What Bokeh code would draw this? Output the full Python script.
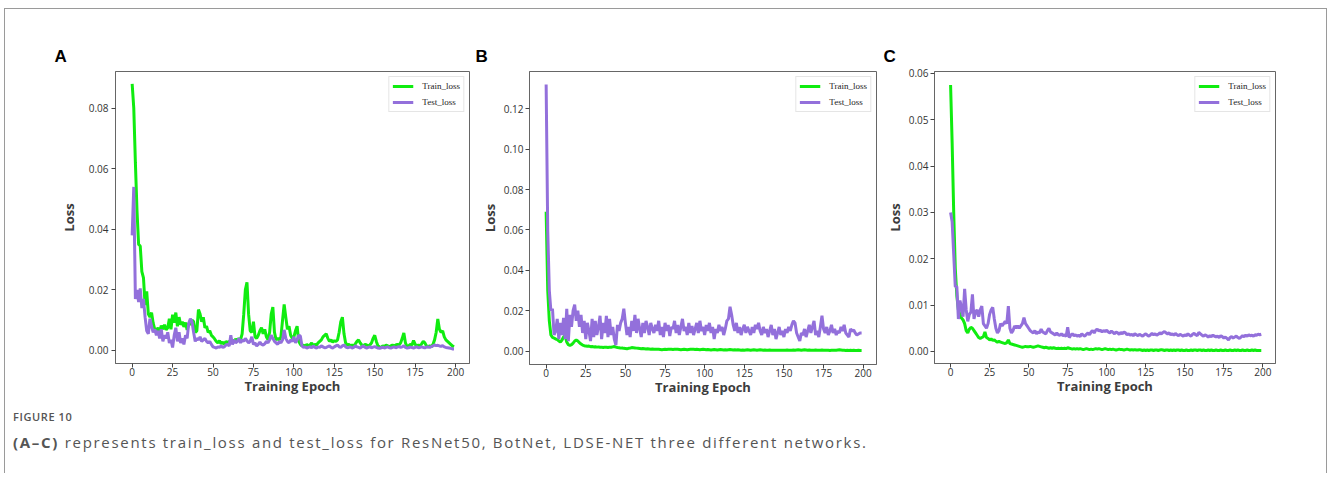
from bokeh.plotting import figure
from bokeh.layouts import row, column
from bokeh.models import (Range1d, FixedTicker, NumeralTickFormatter, Legend, LegendItem,
                          Title, Div)
from bokeh.embed import file_html
from bokeh.resources import INLINE

# ---------------- data ----------------
PANELS = ["A", "B", "C"]
X_TICKS = [0, 25, 50, 75, 100, 125, 150, 175, 200]
Y_TICKS_A = [0.0, 0.02, 0.04, 0.06, 0.08]
Y_TICKS_B = [0.0, 0.02, 0.04, 0.06, 0.08, 0.10, 0.12]
Y_TICKS_C = [0.0, 0.01, 0.02, 0.03, 0.04, 0.05, 0.06]
SERIES_NAMES = ["Train_loss", "Test_loss"]

train_A = [
    0.0880, 0.0800, 0.0620, 0.0460, 0.0350, 0.0345, 0.0260, 0.0240, 0.0150, 0.0195,
    0.0120, 0.0110, 0.0125, 0.0090, 0.0070, 0.0065, 0.0075, 0.0060, 0.0082, 0.0070,
    0.0085, 0.0068, 0.0075, 0.0105, 0.0070, 0.0118, 0.0092, 0.0125, 0.0080, 0.0110,
    0.0085, 0.0095, 0.0078, 0.0092, 0.0068, 0.0090, 0.0085, 0.0100, 0.0095, 0.0060,
    0.0065, 0.0135, 0.0120, 0.0095, 0.0110, 0.0075, 0.0080, 0.0060, 0.0065, 0.0050,
    0.0045, 0.0038, 0.0030, 0.0025, 0.0032, 0.0022, 0.0028, 0.0020, 0.0030, 0.0025,
    0.0030, 0.0025, 0.0035, 0.0028, 0.0038, 0.0032, 0.0040, 0.0035, 0.0055, 0.0120,
    0.0200, 0.0225, 0.0120, 0.0065, 0.0060, 0.0095, 0.0045, 0.0040, 0.0050, 0.0065,
    0.0075, 0.0055, 0.0070, 0.0045, 0.0035, 0.0060, 0.0120, 0.0143, 0.0060, 0.0035,
    0.0040, 0.0035, 0.0045, 0.0100, 0.0152, 0.0110, 0.0070, 0.0080, 0.0050, 0.0040,
    0.0045, 0.0065, 0.0080, 0.0030, 0.0020, 0.0015, 0.0018, 0.0012, 0.0020, 0.0015,
    0.0018, 0.0025, 0.0015, 0.0020, 0.0018, 0.0025, 0.0030, 0.0035, 0.0045, 0.0050,
    0.0055, 0.0040, 0.0030, 0.0035, 0.0028, 0.0032, 0.0030, 0.0035, 0.0060, 0.0095,
    0.0110, 0.0055, 0.0025, 0.0018, 0.0020, 0.0015, 0.0018, 0.0015, 0.0022, 0.0030,
    0.0035, 0.0025, 0.0018, 0.0015, 0.0020, 0.0018, 0.0015, 0.0018, 0.0025, 0.0040,
    0.0050, 0.0030, 0.0015, 0.0012, 0.0010, 0.0015, 0.0012, 0.0018, 0.0015, 0.0012,
    0.0015, 0.0018, 0.0015, 0.0018, 0.0020, 0.0018, 0.0025, 0.0040, 0.0058, 0.0025,
    0.0012, 0.0015, 0.0020, 0.0018, 0.0033, 0.0020, 0.0015, 0.0018, 0.0015, 0.0022,
    0.0030, 0.0025, 0.0015, 0.0012, 0.0015, 0.0012, 0.0020, 0.0035, 0.0060, 0.0104,
    0.0070, 0.0060, 0.0065, 0.0045, 0.0035, 0.0030, 0.0025, 0.0020, 0.0015, 0.0012,
]
test_A = [
    0.0380, 0.0540, 0.0170, 0.0200, 0.0160, 0.0205, 0.0140, 0.0170, 0.0110, 0.0065,
    0.0055, 0.0105, 0.0080, 0.0060, 0.0070, 0.0050, 0.0065, 0.0040, 0.0070, 0.0030,
    0.0050, 0.0040, 0.0060, 0.0025, 0.0035, 0.0010, 0.0050, 0.0075, 0.0030, 0.0060,
    0.0025, 0.0040, 0.0020, 0.0050, 0.0040, 0.0090, 0.0105, 0.0095, 0.0060, 0.0030,
    0.0040, 0.0035, 0.0045, 0.0030, 0.0035, 0.0040, 0.0030, 0.0025, 0.0030, 0.0020,
    0.0012, 0.0010, 0.0008, 0.0012, 0.0010, 0.0015, 0.0010, 0.0012, 0.0018, 0.0020,
    0.0015, 0.0050, 0.0020, 0.0035, 0.0025, 0.0030, 0.0040, 0.0025, 0.0035, 0.0030,
    0.0040, 0.0032, 0.0025, 0.0030, 0.0045, 0.0020, 0.0025, 0.0015, 0.0020, 0.0028,
    0.0020, 0.0018, 0.0022, 0.0030, 0.0025, 0.0035, 0.0050, 0.0040, 0.0030, 0.0025,
    0.0020, 0.0030, 0.0025, 0.0035, 0.0068, 0.0040, 0.0030, 0.0025, 0.0035, 0.0030,
    0.0045, 0.0025, 0.0035, 0.0050, 0.0048, 0.0015, 0.0010, 0.0012, 0.0008, 0.0010,
    0.0012, 0.0009, 0.0015, 0.0010, 0.0008, 0.0012, 0.0010, 0.0015, 0.0012, 0.0009,
    0.0010, 0.0013, 0.0015, 0.0010, 0.0008, 0.0012, 0.0015, 0.0018, 0.0012, 0.0010,
    0.0015, 0.0018, 0.0012, 0.0009, 0.0010, 0.0012, 0.0008, 0.0010, 0.0015, 0.0012,
    0.0010, 0.0008, 0.0012, 0.0015, 0.0010, 0.0008, 0.0010, 0.0012, 0.0009, 0.0011,
    0.0013, 0.0010, 0.0008, 0.0007, 0.0009, 0.0011, 0.0008, 0.0010, 0.0012, 0.0009,
    0.0008, 0.0010, 0.0012, 0.0009, 0.0011, 0.0013, 0.0010, 0.0012, 0.0016, 0.0010,
    0.0008, 0.0009, 0.0011, 0.0010, 0.0008, 0.0010, 0.0012, 0.0009, 0.0010, 0.0012,
    0.0010, 0.0009, 0.0011, 0.0012, 0.0010, 0.0013, 0.0015, 0.0018, 0.0016, 0.0017,
    0.0015, 0.0014, 0.0016, 0.0012, 0.0010, 0.0009, 0.0008, 0.0007, 0.0005, 0.0005,
]
train_B = [
    0.0690, 0.0300, 0.0150, 0.0080, 0.0068, 0.0065, 0.0060, 0.0058, 0.0050, 0.0045,
    0.0055, 0.0070, 0.0078, 0.0045, 0.0032, 0.0028, 0.0032, 0.0040, 0.0050, 0.0055,
    0.0050, 0.0042, 0.0035, 0.0030, 0.0027, 0.0025, 0.0024, 0.0025, 0.0022, 0.0023,
    0.0021, 0.0022, 0.0020, 0.0021, 0.0019, 0.0020, 0.0018, 0.0020, 0.0019, 0.0018,
    0.0020, 0.0019, 0.0021, 0.0023, 0.0020, 0.0018, 0.0017, 0.0015, 0.0016, 0.0014,
    0.0013, 0.0012, 0.0014, 0.0015, 0.0018, 0.0017, 0.0016, 0.0015, 0.0014, 0.0013,
    0.0012, 0.0013, 0.0012, 0.0011, 0.0012, 0.0011, 0.0010, 0.0011, 0.0010, 0.0009,
    0.0010, 0.0009, 0.0008, 0.0007, 0.0008, 0.0009, 0.0008, 0.0009, 0.0010, 0.0009,
    0.0008, 0.0009, 0.0010, 0.0009, 0.0008, 0.0007, 0.0008, 0.0009, 0.0008, 0.0007,
    0.0008, 0.0009, 0.0010, 0.0009, 0.0008, 0.0009, 0.0008, 0.0007, 0.0008, 0.0009,
    0.0008, 0.0007, 0.0008, 0.0007, 0.0006, 0.0007, 0.0008, 0.0007, 0.0006, 0.0007,
    0.0008, 0.0007, 0.0006, 0.0007, 0.0006, 0.0007, 0.0008, 0.0007, 0.0006, 0.0007,
    0.0006, 0.0007, 0.0006, 0.0005, 0.0006, 0.0005, 0.0006, 0.0007, 0.0006, 0.0005,
    0.0006, 0.0007, 0.0006, 0.0005, 0.0006, 0.0007, 0.0006, 0.0005, 0.0006, 0.0005,
    0.0005, 0.0006, 0.0005, 0.0004, 0.0005, 0.0004, 0.0005, 0.0004, 0.0005, 0.0004,
    0.0004, 0.0005, 0.0006, 0.0005, 0.0004, 0.0005, 0.0006, 0.0005, 0.0006, 0.0007,
    0.0006, 0.0005, 0.0006, 0.0007, 0.0006, 0.0005, 0.0006, 0.0005, 0.0004, 0.0005,
    0.0006, 0.0005, 0.0004, 0.0005, 0.0006, 0.0005, 0.0004, 0.0005, 0.0004, 0.0003,
    0.0004, 0.0005, 0.0004, 0.0005, 0.0006, 0.0007, 0.0006, 0.0005, 0.0004, 0.0003,
    0.0004, 0.0003, 0.0004, 0.0003, 0.0004, 0.0003, 0.0003, 0.0004, 0.0003, 0.0003,
]
test_B = [
    0.1320, 0.0600, 0.0300, 0.0200, 0.0210, 0.0080, 0.0100, 0.0160, 0.0060, 0.0140,
    0.0080, 0.0165, 0.0060, 0.0210, 0.0050, 0.0180, 0.0120, 0.0200, 0.0230, 0.0150,
    0.0200, 0.0120, 0.0180, 0.0090, 0.0150, 0.0060, 0.0140, 0.0100, 0.0050, 0.0160,
    0.0070, 0.0150, 0.0080, 0.0120, 0.0175, 0.0060, 0.0140, 0.0090, 0.0175, 0.0070,
    0.0160, 0.0080, 0.0120, 0.0060, 0.0030, 0.0130, 0.0100, 0.0140, 0.0160, 0.0210,
    0.0140, 0.0080, 0.0120, 0.0070, 0.0150, 0.0100, 0.0180, 0.0090, 0.0160, 0.0110,
    0.0070, 0.0140, 0.0090, 0.0150, 0.0120, 0.0080, 0.0140, 0.0110, 0.0090, 0.0130,
    0.0100, 0.0150, 0.0080, 0.0120, 0.0070, 0.0140, 0.0100, 0.0130, 0.0075, 0.0120,
    0.0110, 0.0150, 0.0090, 0.0130, 0.0080, 0.0120, 0.0160, 0.0100, 0.0120, 0.0080,
    0.0140, 0.0090, 0.0125, 0.0080, 0.0110, 0.0140, 0.0090, 0.0150, 0.0100, 0.0120,
    0.0080, 0.0130, 0.0100, 0.0140, 0.0090, 0.0120, 0.0060, 0.0110, 0.0090, 0.0130,
    0.0100, 0.0120, 0.0080, 0.0110, 0.0150, 0.0160, 0.0220, 0.0180, 0.0130, 0.0100,
    0.0140, 0.0090, 0.0120, 0.0080, 0.0110, 0.0130, 0.0090, 0.0120, 0.0100, 0.0080,
    0.0120, 0.0090, 0.0130, 0.0110, 0.0140, 0.0100, 0.0080, 0.0120, 0.0090, 0.0110,
    0.0070, 0.0100, 0.0130, 0.0080, 0.0110, 0.0060, 0.0090, 0.0120, 0.0080, 0.0100,
    0.0070, 0.0110, 0.0090, 0.0120, 0.0100, 0.0130, 0.0150, 0.0140, 0.0090, 0.0070,
    0.0050, 0.0090, 0.0080, 0.0110, 0.0070, 0.0100, 0.0130, 0.0090, 0.0120, 0.0150,
    0.0080, 0.0100, 0.0070, 0.0120, 0.0175, 0.0110, 0.0090, 0.0120, 0.0080, 0.0100,
    0.0130, 0.0090, 0.0110, 0.0080, 0.0100, 0.0090, 0.0120, 0.0100, 0.0130, 0.0090,
    0.0080, 0.0070, 0.0110, 0.0100, 0.0105, 0.0090, 0.0080, 0.0085, 0.0090, 0.0090,
]
train_C = [
    0.0575, 0.0450, 0.0300, 0.0180, 0.0120, 0.0090, 0.0080, 0.0072, 0.0068, 0.0060,
    0.0045, 0.0040, 0.0048, 0.0052, 0.0050, 0.0045, 0.0040, 0.0035, 0.0030, 0.0028,
    0.0030, 0.0032, 0.0042, 0.0030, 0.0028, 0.0025, 0.0027, 0.0024, 0.0025, 0.0022,
    0.0020, 0.0022, 0.0020, 0.0019, 0.0018, 0.0017, 0.0019, 0.0025, 0.0017, 0.0016,
    0.0015, 0.0014, 0.0013, 0.0012, 0.0011, 0.0010, 0.0009, 0.0010, 0.0011, 0.0010,
    0.0010, 0.0011, 0.0010, 0.0009, 0.0010, 0.0011, 0.0012, 0.0011, 0.0010, 0.0009,
    0.0008, 0.0009, 0.0008, 0.0007, 0.0008, 0.0007, 0.0008, 0.0007, 0.0006, 0.0007,
    0.0006, 0.0007, 0.0006, 0.0007, 0.0006, 0.0008, 0.0007, 0.0006, 0.0005, 0.0006,
    0.0005, 0.0006, 0.0005, 0.0006, 0.0005, 0.0004, 0.0005, 0.0006, 0.0005, 0.0004,
    0.0005, 0.0004, 0.0005, 0.0006, 0.0005, 0.0006, 0.0005, 0.0004, 0.0005, 0.0006,
    0.0005, 0.0004, 0.0005, 0.0004, 0.0005, 0.0004, 0.0003, 0.0004, 0.0005, 0.0004,
    0.0004, 0.0003, 0.0004, 0.0005, 0.0004, 0.0003, 0.0004, 0.0003, 0.0004, 0.0003,
    0.0003, 0.0004, 0.0003, 0.0002, 0.0003, 0.0002, 0.0003, 0.0002, 0.0003, 0.0003,
    0.0002, 0.0003, 0.0003, 0.0002, 0.0003, 0.0004, 0.0003, 0.0002, 0.0003, 0.0003,
    0.0002, 0.0003, 0.0002, 0.0003, 0.0002, 0.0003, 0.0003, 0.0002, 0.0003, 0.0002,
    0.0002, 0.0003, 0.0002, 0.0002, 0.0003, 0.0002, 0.0003, 0.0003, 0.0002, 0.0003,
    0.0003, 0.0002, 0.0003, 0.0002, 0.0002, 0.0003, 0.0002, 0.0003, 0.0002, 0.0002,
    0.0003, 0.0002, 0.0002, 0.0003, 0.0002, 0.0002, 0.0003, 0.0002, 0.0002, 0.0003,
    0.0002, 0.0002, 0.0003, 0.0002, 0.0003, 0.0002, 0.0002, 0.0003, 0.0002, 0.0002,
    0.0003, 0.0002, 0.0002, 0.0003, 0.0002, 0.0003, 0.0002, 0.0002, 0.0002, 0.0002,
]
test_C = [
    0.0300, 0.0280, 0.0210, 0.0140, 0.0140, 0.0070, 0.0110, 0.0095, 0.0075, 0.0135,
    0.0090, 0.0065, 0.0080, 0.0085, 0.0123, 0.0070, 0.0085, 0.0090, 0.0075, 0.0090,
    0.0098, 0.0060, 0.0055, 0.0050, 0.0060, 0.0080, 0.0090, 0.0095, 0.0070, 0.0050,
    0.0040, 0.0045, 0.0060, 0.0055, 0.0060, 0.0065, 0.0060, 0.0098, 0.0050, 0.0040,
    0.0045, 0.0055, 0.0050, 0.0055, 0.0050, 0.0055, 0.0060, 0.0073, 0.0060, 0.0055,
    0.0050, 0.0045, 0.0042, 0.0040, 0.0045, 0.0038, 0.0042, 0.0040, 0.0048, 0.0042,
    0.0040, 0.0038, 0.0045, 0.0050, 0.0042, 0.0040, 0.0038, 0.0035, 0.0040, 0.0036,
    0.0035, 0.0038, 0.0034, 0.0036, 0.0032, 0.0052, 0.0030, 0.0035, 0.0038, 0.0034,
    0.0036, 0.0033, 0.0035, 0.0032, 0.0038, 0.0035, 0.0033, 0.0037, 0.0040, 0.0036,
    0.0042, 0.0045, 0.0040, 0.0046, 0.0048, 0.0044, 0.0046, 0.0042, 0.0045, 0.0043,
    0.0046, 0.0042, 0.0040, 0.0044, 0.0041, 0.0038, 0.0042, 0.0040, 0.0037, 0.0041,
    0.0038, 0.0042, 0.0040, 0.0036, 0.0038, 0.0035, 0.0037, 0.0034, 0.0038, 0.0036,
    0.0034, 0.0037, 0.0035, 0.0033, 0.0036, 0.0038, 0.0035, 0.0033, 0.0036, 0.0039,
    0.0036, 0.0038, 0.0035, 0.0037, 0.0040, 0.0038, 0.0041, 0.0043, 0.0040, 0.0038,
    0.0040, 0.0036, 0.0038, 0.0035, 0.0039, 0.0036, 0.0034, 0.0037, 0.0035, 0.0033,
    0.0036, 0.0034, 0.0038, 0.0035, 0.0033, 0.0037, 0.0039, 0.0036, 0.0034, 0.0041,
    0.0038, 0.0035, 0.0033, 0.0036, 0.0034, 0.0031, 0.0034, 0.0032, 0.0035, 0.0033,
    0.0031, 0.0033, 0.0030, 0.0034, 0.0032, 0.0029, 0.0031, 0.0028, 0.0025, 0.0030,
    0.0032, 0.0029, 0.0031, 0.0033, 0.0030, 0.0028, 0.0031, 0.0034, 0.0032, 0.0035,
    0.0033, 0.0036, 0.0034, 0.0035, 0.0033, 0.0036, 0.0035, 0.0037, 0.0036, 0.0037,
]

CAPTION_LABEL = "FIGURE 10"
CAPTION_BOLD = "(A–C)"
CAPTION_TEXT = " represents train_loss and test_loss for ResNet50, BotNet, LDSE-NET three different networks."

# ---------------- styling ----------------
GREEN = "#10ec10"
PURPLE = "#9370db"
FONT = "Open Sans"


def make_panel(letter, train, test, yticks, xr, yr, left, fw, right, top, fh, bottom,
               title_offset, tick_standoff, label_standoff):
    p = figure(output_backend="svg", toolbar_location=None,
               frame_width=fw, frame_height=fh,
               min_border_left=left, min_border_right=right,
               min_border_top=top, min_border_bottom=bottom,
               x_range=Range1d(*xr), y_range=Range1d(*yr),
               background_fill_color="white", border_fill_color="white")
    p.title = Title(text=letter, align="left", offset=title_offset, standoff=12,
                    text_font="Liberation Sans", text_font_style="bold",
                    text_font_size="17px", text_color="black")
    p.grid.visible = False
    p.outline_line_color = "#666666"
    p.outline_line_width = 1

    ep_train = list(range(len(train)))
    ep_test = list(range(len(test)))
    r1 = p.line(ep_train, train, line_color=GREEN, line_width=3)
    r2 = p.line(ep_test, test, line_color=PURPLE, line_width=3)

    for ax in (p.xaxis[0], p.yaxis[0]):
        ax.axis_line_color = "#666666"
        ax.major_tick_line_color = "#444444"
        ax.major_tick_out = 4
        ax.major_tick_in = 0
        ax.minor_tick_line_color = None
        ax.major_label_text_font = FONT
        ax.major_label_text_font_size = "10px"
        ax.major_label_text_color = "#333333"
        ax.axis_label_text_font = FONT
        ax.axis_label_text_font_style = "bold"
        ax.axis_label_text_font_size = "13px"
        ax.axis_label_text_color = "#3c3c3c"

    p.xaxis[0].ticker = FixedTicker(ticks=X_TICKS)
    p.xaxis[0].axis_label = "Training Epoch"
    p.xaxis[0].major_label_standoff = 0
    p.xaxis[0].axis_label_standoff = -2
    p.yaxis[0].ticker = FixedTicker(ticks=yticks)
    p.yaxis[0].formatter = NumeralTickFormatter(format="0.00")
    p.yaxis[0].axis_label = "Loss"
    p.yaxis[0].major_label_standoff = tick_standoff
    p.yaxis[0].axis_label_standoff = label_standoff

    legend = Legend(items=[LegendItem(label=SERIES_NAMES[0], renderers=[r1]),
                           LegendItem(label=SERIES_NAMES[1], renderers=[r2])],
                    location="top_right", margin=5, padding=3, spacing=4,
                    glyph_width=21, glyph_height=12, label_height=12,
                    label_standoff=9, label_text_font="Liberation Serif",
                    label_text_font_size="9px", label_text_color="#222222",
                    border_line_color="#cccccc", border_line_width=1,
                    background_fill_color="white", background_fill_alpha=1.0)
    p.add_layout(legend)
    return p


pA = make_panel(PANELS[0], train_A, test_A, Y_TICKS_A, (-10.3, 208.6), (-0.0043, 0.0921),
                110, 354, 3, 59, 292, 45, -61, 3, 8)
pB = make_panel(PANELS[1], train_B, test_B, Y_TICKS_B, (-10.5, 208.4), (-0.0066, 0.1384),
                57, 347, 4, 61, 293, 42, -54, 2, 2)
pC = make_panel(PANELS[2], train_C, test_C, Y_TICKS_C, (-10.3, 208.1), (-0.0026, 0.0604),
                54, 341, 51, 62, 292, 42, -51, 2, 2)

caption = Div(text=(
    f'<div style="font-family:\'{FONT}\';color:#555555;padding-left:3px;">'
    f'<div style="font-size:11px;font-weight:600;line-height:14px;letter-spacing:0.6px;">{CAPTION_LABEL}</div>'
    f'<div style="font-size:15px;line-height:18px;margin-top:9px;letter-spacing:1.7px;">'
    f'<b>{CAPTION_BOLD}</b>{CAPTION_TEXT}</div></div>'),
    width=1310, height=58)

layout = column(row(pA, pB, pC), caption,
                styles={"position": "relative", "left": "4px", "top": "8px",
                        "border-top": "1px solid #9a9a9a",
                        "border-left": "1px solid #9a9a9a",
                        "border-right": "1px solid #9a9a9a"})

open("out.html", "w").write(file_html(layout, INLINE))
